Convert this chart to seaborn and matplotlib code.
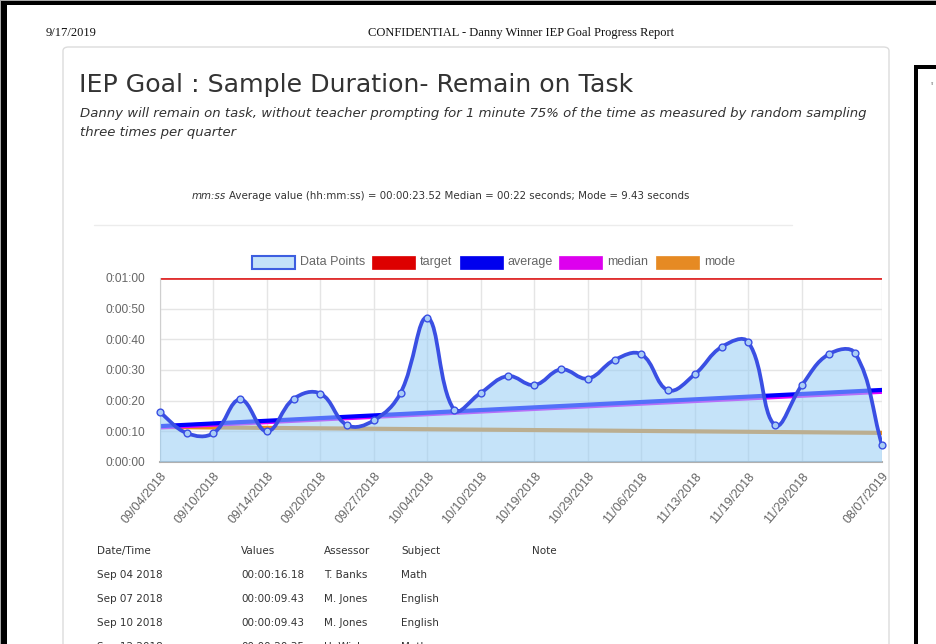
# -*- coding: utf-8 -*-
# IEP goal progress report - sample duration chart
import numpy as np
import matplotlib.pyplot as plt
import seaborn as sns
from matplotlib.path import Path
from matplotlib.patches import PathPatch, Rectangle, FancyBboxPatch

# data (seconds on task per sample)
dates = ["09/04/2018", "09/07/2018", "09/10/2018", "09/12/2018", "09/14/2018",
         "09/17/2018", "09/20/2018", "09/24/2018", "09/27/2018", "10/01/2018",
         "10/04/2018", "10/08/2018", "10/10/2018", "10/16/2018", "10/19/2018",
         "10/24/2018", "10/29/2018", "11/01/2018", "11/06/2018", "11/08/2018",
         "11/13/2018", "11/15/2018", "11/19/2018", "11/26/2018", "11/29/2018",
         "12/04/2018", "12/10/2018", "08/07/2019"]
values = [16.18, 9.43, 9.43, 20.4, 10.0, 20.6, 22.3, 12.0, 13.6, 22.6,
          47.1, 17.0, 22.6, 28.0, 25.1, 30.2, 27.2, 33.3, 35.1, 23.4,
          28.6, 37.5, 39.1, 12.0, 25.0, 35.1, 35.4, 5.5]
shown_ticks = [0, 2, 4, 6, 8, 10, 12, 14, 16, 18, 20, 22, 24, 27]

target_line = [60, 60]
average_line = [11.7, 23.5]
median_line = [11.4, 23.0]
mode_line = [11.4, 9.5]

y_ticks = [0, 10, 20, 30, 40, 50, 60]
y_tick_labels = ["0:00:00", "0:00:10", "0:00:20", "0:00:30", "0:00:40", "0:00:50", "0:01:00"]

legend_names = ["Data Points", "target", "average", "median", "mode"]

table_header = ["Date/Time", "Values", "Assessor", "Subject", "Note"]
table_rows = [["Sep 04 2018", "00:00:16.18", "T. Banks", "Math"],
              ["Sep 07 2018", "00:00:09.43", "M. Jones", "English"],
              ["Sep 10 2018", "00:00:09.43", "M. Jones", "English"],
              ["Sep 12 2018", "00:00:20.35", "H. Wickam", "Math"]]

W, H = 937, 644
def fx(x):
    return x / W
def fy(y):
    return 1 - y / H

sns.set_style("white")
plt.rcParams['font.family'] = ['DejaVu Sans']

fig = plt.figure(figsize=(W / 100, H / 100), dpi=100)

# page frame (screenshot borders)
fig.add_artist(Rectangle((0, 0), 1, 1, transform=fig.transFigure, facecolor="#a8a8a8", edgecolor="none", zorder=0))
fig.add_artist(Rectangle((fx(1), 0), fx(936) - fx(1), fy(1), transform=fig.transFigure, facecolor="black", edgecolor="none", zorder=0))
fig.add_artist(Rectangle((fx(7), 0), fx(936) - fx(7), fy(5), transform=fig.transFigure, facecolor="white", edgecolor="none", zorder=0))
# second page peeking in on the right
fig.add_artist(Rectangle((fx(914), 0), 1, fy(65), transform=fig.transFigure, facecolor="black", edgecolor="none", zorder=0.5))
fig.add_artist(Rectangle((fx(918), 0), 1, fy(69), transform=fig.transFigure, facecolor="white", edgecolor="none", zorder=0.6))
fig.text(fx(931), fy(84), "9/", fontsize=3, color="#555", family="Liberation Serif", va="center")

# card
fig.add_artist(FancyBboxPatch((fx(63), fy(700)), fx(889) - fx(63), fy(47) - fy(700),
                              boxstyle="round,pad=0,rounding_size=0.006",
                              transform=fig.transFigure, facecolor="white", edgecolor="#dcdcdc", lw=1, zorder=1))
fig.add_artist(plt.Line2D([fx(94), fx(792)], [fy(225), fy(225)], transform=fig.transFigure, color="#ececec", lw=1, zorder=2))

# page header
fig.text(fx(46), fy(33), "9/17/2019", fontsize=9, family="Liberation Serif", color="#111", va="center")
fig.text(fx(521), fy(33), "CONFIDENTIAL - Danny Winner IEP Goal Progress Report", fontsize=9,
         family="Liberation Serif", color="#111", va="center", ha="center")

# titles
fig.text(fx(79), fy(85), "IEP Goal : Sample Duration- Remain on Task", fontsize=18.2, color="#333", va="center")
fig.text(fx(80), fy(113), "Danny will remain on task, without teacher prompting for 1 minute 75% of the time as measured by random sampling",
         fontsize=9.55, style="italic", color="#333", va="center")
fig.text(fx(80), fy(132), "three times per quarter", fontsize=9.55, style="italic", color="#333", va="center")

r = fig.canvas.get_renderer()
t1 = fig.text(fx(192), fy(196), "mm:ss", fontsize=7.4, style="italic", color="#333", va="center")
bb = t1.get_window_extent(r)
fig.text(bb.x1 / W + 3 / W, fy(196),
         "Average value (hh:mm:ss) = 00:00:23.52 Median = 00:22 seconds; Mode = 9.43 seconds",
         fontsize=7.4, color="#333", va="center")

# legend (chart.js style boxes)
legend_box_x = [252, 372, 460, 559, 656]
legend_fill = ["#c3e2f9", "#dd0000", "#0000ee", "#dd00ee", "#e68a23"]
legend_edge = ["#3d5ee0", "#dd0000", "#0000ee", "#dd00ee", "#e68a23"]
for name, bx, fc, ec in zip(legend_names, legend_box_x, legend_fill, legend_edge):
    fig.add_artist(Rectangle((fx(bx), fy(269)), 43 / W, 13 / H, transform=fig.transFigure,
                             facecolor=fc, edgecolor=ec, lw=1.5 if name == "Data Points" else 0.5, zorder=3))
    fig.text(fx(bx + 48), fy(262.5), name, fontsize=9, family="Liberation Sans", color="#666", va="center")

# chart
ax = fig.add_axes([fx(160), fy(462), 722 / W, 184 / H])
ax.set_zorder(3)
idx = np.arange(len(values))
ax.set_xlim(0, len(values) - 1)
ax.set_ylim(0, 60)

sns.lineplot(x=[0, 27], y=target_line, ax=ax, color="#e03030", lw=2, zorder=2)
sns.lineplot(x=[0, 27], y=mode_line, ax=ax, color="#e88a1a", lw=3, zorder=2)
sns.lineplot(x=[0, 27], y=median_line, ax=ax, color="#e000ff", lw=3.5, zorder=2)
sns.lineplot(x=[0, 27], y=average_line, ax=ax, color="#0000ff", lw=3, zorder=2.5)


def spline(xs, ys, tension=0.4):
    # chart.js style bezier, control points worked out in pixel space
    sx, sy = 722 / 27, 184 / 60
    px, py = np.asarray(xs) * sx, np.asarray(ys) * sy
    n = len(px)
    prv, nxt = [], []
    for i in range(n):
        a, b = max(i - 1, 0), min(i + 1, n - 1)
        d01 = np.hypot(px[i] - px[a], py[i] - py[a])
        d12 = np.hypot(px[b] - px[i], py[b] - py[i])
        tot = d01 + d12
        fa = tension * d01 / tot if tot else 0
        fb = tension * d12 / tot if tot else 0
        prv.append((px[i] - fa * (px[b] - px[a]), py[i] - fa * (py[b] - py[a])))
        nxt.append((px[i] + fb * (px[b] - px[a]), py[i] + fb * (py[b] - py[a])))
    verts = [(xs[0], ys[0])]
    codes = [Path.MOVETO]
    for i in range(n - 1):
        c1, c2 = nxt[i], prv[i + 1]
        verts += [(c1[0] / sx, np.clip(c1[1] / sy, 0, 60)),
                  (c2[0] / sx, np.clip(c2[1] / sy, 0, 60)),
                  (xs[i + 1], ys[i + 1])]
        codes += [Path.CURVE4] * 3
    return verts, codes


verts, codes = spline(idx, values)
fill_verts = [(0, 0)] + verts + [(idx[-1], 0), (0, 0)]
fill_codes = [Path.MOVETO, Path.LINETO] + codes[1:] + [Path.LINETO, Path.CLOSEPOLY]
ax.add_patch(PathPatch(Path(fill_verts, fill_codes), facecolor=(150 / 255, 205 / 255, 245 / 255, 0.55),
                       edgecolor="none", zorder=3))
ax.add_patch(PathPatch(Path(verts, codes), facecolor="none", edgecolor="#3a4fe3", lw=2.7, zorder=5))
sns.scatterplot(x=idx, y=values, ax=ax, color="#a9cdf6", edgecolor="#3a4fe3", s=24, linewidth=1,
                zorder=6, legend=False, clip_on=False)

ax.set_yticks(y_ticks)
ax.set_yticklabels(y_tick_labels)
ax.set_xticks(shown_ticks)
ax.set_xticklabels([dates[i] for i in shown_ticks], rotation=50, ha="right", va="top",
                   rotation_mode="anchor")
ax.grid(True, color="#e5e5e5", lw=1, zorder=0)
ax.set_axisbelow(True)
ax.tick_params(axis="both", length=10, width=1, color="#e0e0e0", labelsize=9, labelcolor="#666")
ax.tick_params(axis="y", pad=1, labelsize=8.6)
ax.tick_params(axis="x", pad=-4)
for lab in ax.get_xticklabels() + ax.get_yticklabels():
    lab.set_family("Liberation Sans")
for s in ["top", "right"]:
    ax.spines[s].set_visible(False)
ax.spines["left"].set_color("#cfcfcf")
ax.spines["bottom"].set_color("#b0b0b0")
ax.spines["bottom"].set_linewidth(1.5)
ax.set_xlabel("")
ax.set_ylabel("")

# data table under the chart
col_x = [97, 241, 324, 401, 532]
for name, cx in zip(table_header, col_x):
    fig.text(fx(cx), fy(551), name, fontsize=7.5, color="#333", va="center")
for k, row in enumerate(table_rows):
    for val, cx in zip(row, col_x):
        fig.text(fx(cx), fy(575 + 24 * k), val, fontsize=7.5, color="#333", va="center")

fig.savefig("out.png", dpi=100)
